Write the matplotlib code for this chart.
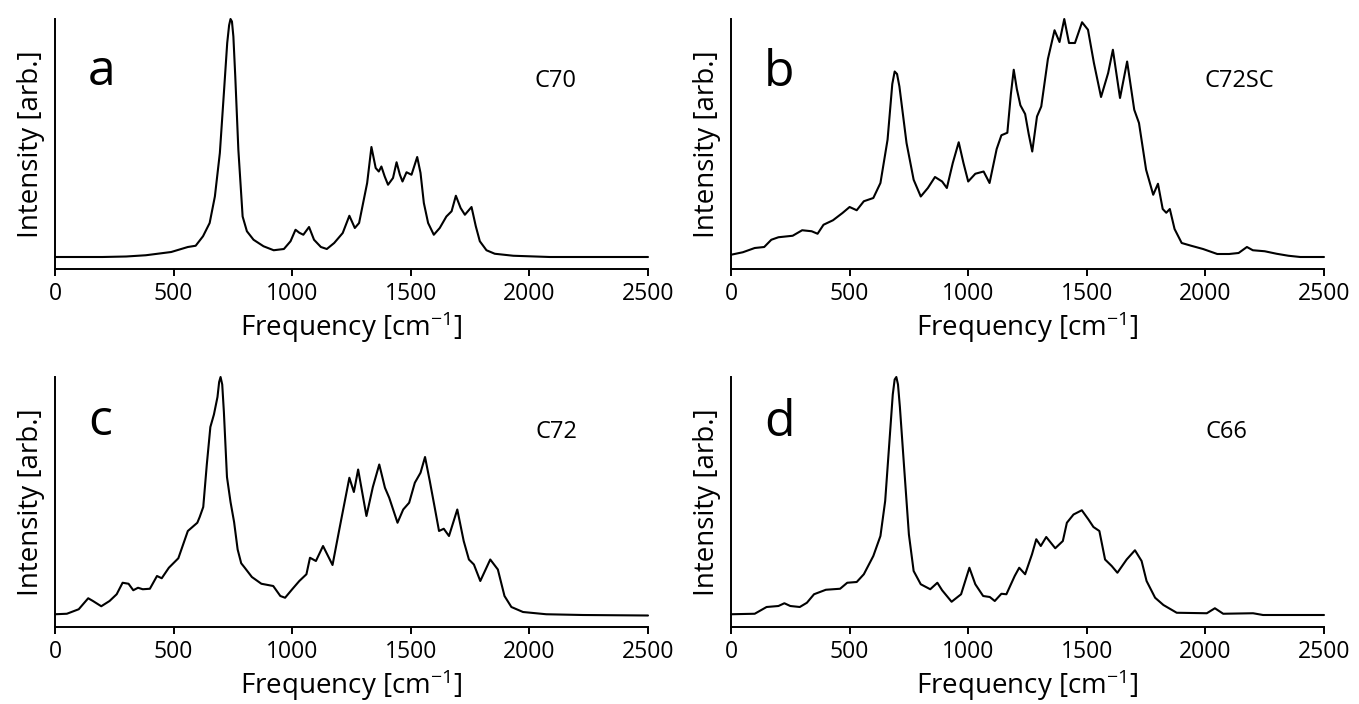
import matplotlib
matplotlib.use("Agg")
import matplotlib.pyplot as plt

plt.rcParams['font.family'] = ['Open Sans', 'DejaVu Sans']
plt.rcParams['mathtext.fontset'] = 'custom'
plt.rcParams['mathtext.rm'] = 'Open Sans'
plt.rcParams['mathtext.it'] = 'Open Sans:italic'
plt.rcParams['mathtext.bf'] = 'Open Sans:bold'

# ---- data (intensity normalised to panel height) ----
freq_a = [0, 200, 300, 383, 490, 560, 593, 624, 652, 674, 695, 712, 726, 734, 740, 746, 752, 760, 773, 791,
          809, 837, 879, 922, 965, 993, 1014, 1030, 1047, 1071, 1092, 1121, 1146, 1177, 1213, 1241, 1264, 1282,
          1299, 1316, 1334, 1352, 1365, 1376, 1390, 1404, 1425, 1440, 1454, 1465, 1482, 1503, 1527, 1541,
          1555, 1573, 1597, 1622, 1650, 1672, 1690, 1710, 1728, 1756, 1774, 1791, 1819, 1854, 1932, 2086, 2500]
int_a = [0.048, 0.048, 0.050, 0.055, 0.068, 0.088, 0.093, 0.131, 0.184, 0.29, 0.464, 0.704, 0.904, 0.975, 1.0,
         0.99, 0.93, 0.77, 0.477, 0.21, 0.151, 0.117, 0.091, 0.075, 0.08, 0.111, 0.157, 0.145, 0.137, 0.168,
         0.117, 0.088, 0.08, 0.104, 0.144, 0.213, 0.164, 0.184, 0.264, 0.344, 0.488, 0.404, 0.39, 0.41, 0.37,
         0.337, 0.364, 0.427, 0.377, 0.35, 0.387, 0.377, 0.448, 0.384, 0.264, 0.184, 0.137, 0.164, 0.21, 0.231,
         0.293, 0.244, 0.217, 0.248, 0.171, 0.111, 0.075, 0.061, 0.053, 0.048, 0.048]

freq_b = [0, 50, 100, 140, 170, 200, 260, 300, 340, 365, 390, 430, 470, 500, 530, 560, 600, 630, 660, 680,
          690, 700, 710, 740, 770, 800, 830, 860, 890, 910, 935, 960, 980, 1000, 1030, 1065, 1090, 1120, 1140,
          1165, 1180, 1192, 1205, 1220, 1240, 1255, 1270, 1290, 1308, 1336, 1364, 1385, 1405, 1425, 1450, 1480,
          1505, 1530, 1560, 1590, 1610, 1640, 1670, 1700, 1720, 1750, 1780, 1800, 1820, 1835, 1850, 1870,
          1900, 1940, 1990, 2050, 2100, 2140, 2175, 2200, 2250, 2300, 2350, 2400, 2500]
int_b = [0.057, 0.067, 0.084, 0.088, 0.117, 0.127, 0.133, 0.155, 0.151, 0.141, 0.177, 0.195, 0.224, 0.248,
         0.235, 0.271, 0.284, 0.344, 0.517, 0.74, 0.79, 0.78, 0.73, 0.504, 0.357, 0.29, 0.324, 0.368, 0.35,
         0.324, 0.424, 0.507, 0.424, 0.35, 0.381, 0.39, 0.344, 0.48, 0.535, 0.545, 0.70, 0.797, 0.72, 0.655,
         0.62, 0.54, 0.47, 0.61, 0.65, 0.84, 0.955, 0.908, 1.0, 0.904, 0.904, 0.987, 0.957, 0.824, 0.688,
         0.784, 0.877, 0.684, 0.83, 0.637, 0.584, 0.397, 0.297, 0.341, 0.24, 0.225, 0.24, 0.16, 0.104, 0.093,
         0.08, 0.06, 0.06, 0.064, 0.088, 0.075, 0.071, 0.061, 0.053, 0.048, 0.048]

freq_c = [0, 50, 100, 140, 160, 195, 230, 260, 285, 310, 330, 350, 370, 400, 430, 450, 480, 520, 560, 600,
          610, 625, 640, 655, 670, 685, 692, 698, 705, 712, 725, 740, 755, 770, 785, 800, 830, 870, 920, 950,
          970, 1000, 1030, 1060, 1075, 1100, 1130, 1170, 1200, 1241, 1260, 1278, 1313, 1340, 1367, 1391, 1409,
          1444, 1468, 1493, 1517, 1541, 1560, 1580, 1601, 1619, 1639, 1661, 1696, 1723, 1745, 1766, 1793,
          1835, 1867, 1895, 1924, 1973, 2071, 2225, 2500]
int_c = [0.051, 0.053, 0.071, 0.115, 0.104, 0.083, 0.104, 0.131, 0.177, 0.173, 0.147, 0.157, 0.151, 0.153,
         0.204, 0.195, 0.237, 0.275, 0.384, 0.417, 0.44, 0.48, 0.65, 0.80, 0.85, 0.92, 0.98, 1.0, 0.97, 0.86,
         0.60, 0.50, 0.42, 0.31, 0.255, 0.237, 0.2, 0.173, 0.164, 0.124, 0.117, 0.151, 0.184, 0.211, 0.277,
         0.264, 0.324, 0.248, 0.397, 0.597, 0.54, 0.63, 0.444, 0.56, 0.65, 0.557, 0.517, 0.417, 0.47, 0.497,
         0.577, 0.617, 0.68, 0.584, 0.477, 0.384, 0.393, 0.364, 0.47, 0.344, 0.27, 0.25, 0.184, 0.27, 0.23,
         0.124, 0.08, 0.06, 0.051, 0.048, 0.046]

freq_d = [0, 100, 150, 200, 225, 250, 290, 320, 350, 400, 460, 490, 530, 560, 600, 630, 650, 670, 682, 690,
          697, 704, 712, 730, 750, 770, 800, 840, 870, 890, 930, 970, 1005, 1030, 1063, 1091, 1112, 1140, 1161,
          1196, 1215, 1240, 1269, 1287, 1306, 1329, 1367, 1399, 1416, 1444, 1479, 1507, 1528, 1553, 1577,
          1605, 1629, 1668, 1703, 1731, 1752, 1788, 1823, 1879, 2006, 2040, 2075, 2201, 2243, 2500]
int_d = [0.051, 0.053, 0.08, 0.084, 0.095, 0.084, 0.08, 0.097, 0.131, 0.149, 0.153, 0.177, 0.18, 0.211, 0.284,
         0.364, 0.504, 0.77, 0.93, 0.99, 1.0, 0.97, 0.88, 0.637, 0.37, 0.224, 0.171, 0.151, 0.177, 0.147, 0.101,
         0.131, 0.237, 0.171, 0.124, 0.12, 0.104, 0.133, 0.131, 0.204, 0.237, 0.211, 0.291, 0.351, 0.324, 0.36,
         0.315, 0.344, 0.417, 0.45, 0.467, 0.43, 0.4, 0.384, 0.27, 0.244, 0.217, 0.27, 0.307, 0.264, 0.184,
         0.117, 0.088, 0.057, 0.055, 0.075, 0.053, 0.055, 0.048, 0.048]

panel_letters = ['a', 'b', 'c', 'd']
compounds = ['C70', 'C72SC', 'C72', 'C66']
xticks = [0, 500, 1000, 1500, 2000, 2500]
xlabel = 'Frequency [cm$^{-1}$]'
ylabel = 'Intensity [arb.]'

W, H = 1359, 704
fig = plt.figure(figsize=(W / 100, H / 100), dpi=100)

# axes boxes in pixels: (left, top, right, bottom)
boxes = [(55, 19, 648, 269), (731, 19, 1324, 269), (55, 377, 648, 627), (731, 377, 1324, 627)]
letter_y = [0.735, 0.732, 0.768, 0.764]
comp_y = [0.728, 0.728, 0.756, 0.756]
comp_x = [0.808, 0.799, 0.810, 0.801]

series = [(freq_a, int_a), (freq_b, int_b), (freq_c, int_c), (freq_d, int_d)]

for i, (fx, iy) in enumerate(series):
    l, t, r, b = boxes[i]
    ax = fig.add_axes([l / W, 1 - b / H, (r - l) / W, (b - t) / H])
    ax.plot(fx, iy, color='black', lw=1.5, clip_on=False,
            solid_joinstyle='round', solid_capstyle='round')
    ax.set_xlim(0, 2500)
    ax.set_ylim(0, 1)
    for s in ['top', 'right']:
        ax.spines[s].set_visible(False)
    for s in ['left', 'bottom']:
        ax.spines[s].set_linewidth(1.4)
    ax.set_yticks([])
    ax.set_xticks(xticks)
    ax.set_xticklabels([str(v) for v in xticks])
    ax.tick_params(axis='x', direction='out', length=5, width=1.4, pad=4, labelsize=16.5)
    ax.set_xlabel(xlabel, fontsize=20, labelpad=3)
    ax.set_ylabel(ylabel, fontsize=20, labelpad=7)
    ax.text(0.056, letter_y[i], panel_letters[i], transform=ax.transAxes,
            fontsize=36, ha='left', va='baseline')
    ax.text(comp_x[i], comp_y[i], compounds[i], transform=ax.transAxes,
            fontsize=17, ha='left', va='baseline')

fig.savefig('out.png', dpi=100)
